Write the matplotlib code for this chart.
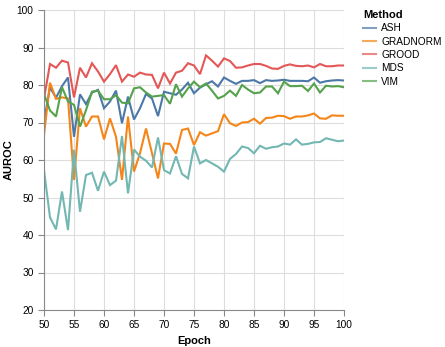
import matplotlib
matplotlib.use("Agg")
import matplotlib.pyplot as plt

epochs = list(range(50, 101))
methods = ["ASH", "GRADNORM", "GROOD", "MDS", "VIM"]
colors = ["#4c78a8", "#f58518", "#e45756", "#72b7b2", "#54a24b"]

ash = [70.2, 79.4, 76.6, 79.7, 82.0, 66.2, 77.5, 74.9, 78.0, 78.7,
       73.8, 75.6, 78.5, 69.8, 76.9, 70.8, 73.8, 77.6, 76.4, 71.7,
       78.2, 77.8, 77.4, 78.8, 80.6, 77.8, 79.3, 80.2, 81.0, 79.6,
       82.0, 81.1, 80.3, 81.1, 81.1, 81.3, 80.5, 81.3, 81.1, 81.2,
       81.4, 81.1, 81.1, 81.1, 81.0, 82.0, 80.6, 81.0, 81.2, 81.3, 81.2]
gradnorm = [66.7, 80.6, 76.3, 76.7, 76.4, 54.7, 73.8, 68.9, 71.6, 71.6,
            65.5, 71.1, 66.2, 54.7, 71.6, 56.9, 61.8, 68.4, 61.8, 55.1,
            64.4, 64.3, 61.7, 68.0, 68.4, 64.0, 67.4, 66.5, 67.1, 67.7,
            72.2, 69.8, 69.1, 70.0, 70.1, 71.0, 69.7, 71.2, 71.3, 71.8,
            71.7, 71.0, 71.6, 71.6, 71.9, 72.4, 71.1, 71.0, 71.9, 71.8, 71.8]
grood = [76.4, 85.6, 84.6, 86.5, 86.0, 76.7, 84.6, 82.0, 85.8, 83.6,
         80.9, 82.9, 85.3, 80.9, 82.8, 82.2, 83.3, 82.8, 82.7, 79.1,
         83.3, 80.4, 83.3, 83.8, 85.8, 85.2, 82.9, 87.9, 86.5, 84.9,
         87.1, 86.4, 84.6, 84.7, 85.2, 85.6, 85.6, 85.1, 84.4, 84.3,
         85.1, 85.5, 85.1, 85.0, 85.2, 84.7, 85.6, 85.0, 85.0, 85.2, 85.2]
mds = [57.3, 44.7, 41.5, 51.6, 41.3, 62.7, 46.2, 56.0, 56.6, 51.8,
       56.9, 53.3, 54.5, 66.4, 51.1, 62.8, 60.9, 59.8, 58.0, 66.0,
       57.3, 56.4, 61.0, 56.3, 55.1, 63.6, 59.1, 60.0, 59.1, 58.2,
       56.9, 60.3, 61.6, 63.6, 63.2, 61.8, 63.8, 63.0, 63.4, 63.6,
       64.4, 64.1, 65.5, 64.1, 64.3, 64.7, 64.8, 65.8, 65.4, 65.0, 65.2]
vim = [77.6, 73.2, 71.6, 79.4, 75.6, 74.7, 68.9, 73.3, 78.2, 78.5,
       76.2, 76.2, 77.3, 75.3, 75.1, 79.1, 79.4, 78.0, 76.9, 77.1,
       77.3, 75.0, 80.2, 76.9, 79.1, 80.9, 79.4, 80.4, 78.5, 76.4,
       77.1, 78.5, 77.1, 80.0, 78.8, 77.8, 78.0, 79.6, 79.6, 77.8,
       80.9, 79.7, 79.7, 79.8, 78.4, 80.4, 78.0, 79.8, 79.6, 79.7, 79.4]

series = [ash, gradnorm, grood, mds, vim]
x_ticks = list(range(50, 101, 5))
y_ticks = list(range(20, 101, 10))

plt.rcParams['font.family'] = ['Liberation Sans', 'DejaVu Sans']

W, H = 445, 347
fig = plt.figure(figsize=(W / 100, H / 100), dpi=100)
ax = fig.add_axes([44 / W, 1 - 310 / H, 300 / W, 300 / H])

for name, vals, c in zip(methods, series, colors):
    ax.plot(epochs, vals, color=c, lw=1.5, label=name, solid_joinstyle='miter')

ax.set_xlim(50, 100)
ax.set_ylim(20, 100)
ax.set_xticks(x_ticks)
ax.set_yticks(y_ticks)
ax.grid(True, color='#dddddd', lw=0.8)
ax.set_axisbelow(True)
for s in ['top', 'right']:
    ax.spines[s].set_visible(False)
for s in ['left', 'bottom']:
    ax.spines[s].set_color('#888888')
    ax.spines[s].set_linewidth(0.8)
ax.tick_params(colors='#888888', length=4, width=0.8, labelsize=7.3, labelcolor='#000000')
ax.set_xlabel('Epoch', fontsize=8, fontweight='bold', labelpad=4)
ax.set_ylabel('AUROC', fontsize=8, fontweight='bold', labelpad=2)

leg = ax.legend(loc='upper left', bbox_to_anchor=(363 / W, 1 - 10 / H), bbox_transform=fig.transFigure,
                frameon=False, title='Method', fontsize=7.3, handlelength=1.3, handletextpad=0.5,
                labelspacing=0.33, borderaxespad=0, borderpad=0)
leg.get_title().set_fontweight('bold')
leg.get_title().set_fontsize(8)
leg._legend_box.align = 'left'
for lh in leg.get_lines():
    lh.set_linewidth(1.5)
    lh.set_alpha(0.7)

fig.savefig('out.png', dpi=100)
